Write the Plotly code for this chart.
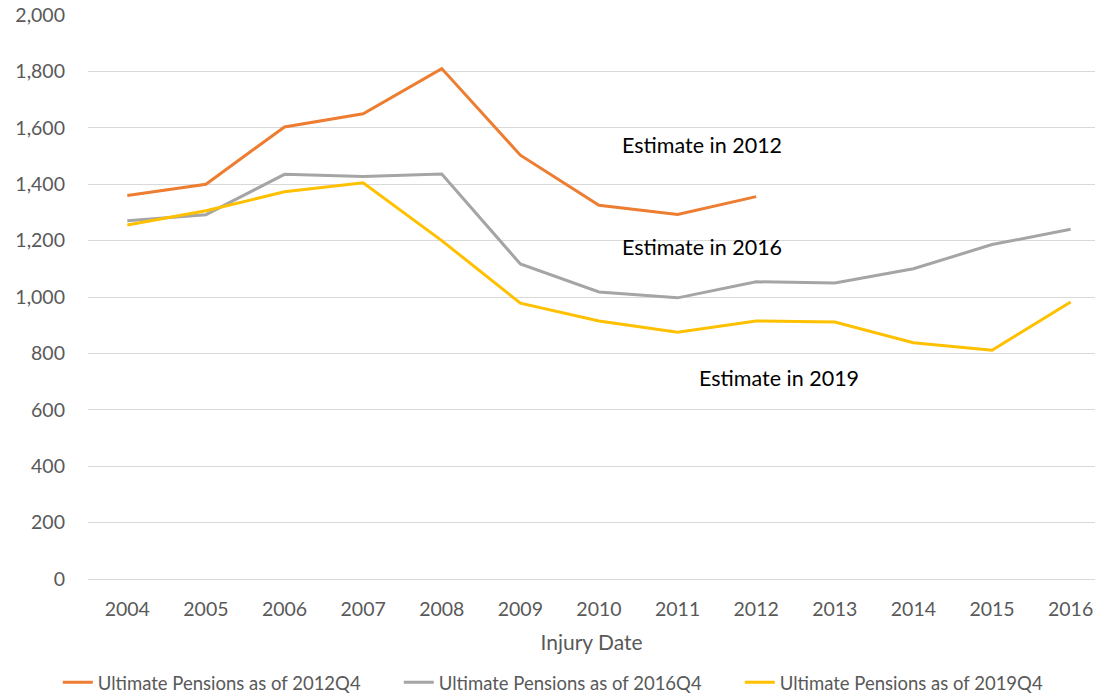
import plotly.graph_objects as go

# Injury years on the category axis
years = ["2004", "2005", "2006", "2007", "2008", "2009", "2010",
         "2011", "2012", "2013", "2014", "2015", "2016"]

# Ultimate pension counts by evaluation date
pensions_2012q4 = [1360, 1400, 1603, 1650, 1810, 1503, 1325, 1293, 1356]
pensions_2016q4 = [1270, 1292, 1435, 1427, 1436, 1117, 1018, 997, 1054,
                   1050, 1100, 1186, 1240]
pensions_2019q4 = [1255, 1306, 1373, 1405, 1200, 978, 915, 875, 915,
                   911, 838, 811, 982]

y_ticks = [0, 200, 400, 600, 800, 1000, 1200, 1400, 1600, 1800, 2000]

series = [
    ("Ultimate Pensions as of 2012Q4", pensions_2012q4, "#ED7D31"),
    ("Ultimate Pensions as of 2016Q4", pensions_2016q4, "#A5A5A5"),
    ("Ultimate Pensions as of 2019Q4", pensions_2019q4, "#FFC000"),
]

font_family = "Lato, Open Sans, sans-serif"

fig = go.Figure()
for name, values, color in series:
    fig.add_trace(go.Scatter(
        x=years[:len(values)], y=values, name=name, mode="lines",
        line=dict(color=color, width=3),
    ))

# Labels placed by category index (fractional positions between years)
labels = [
    ("Estimate in 2012", 6.27, 1539),
    ("Estimate in 2016", 6.27, 1177),
    ("Estimate in 2019", 7.25, 713),
]
for text, xpos, yval in labels:
    fig.add_annotation(
        x=xpos, y=yval, text=text, showarrow=False, xanchor="left",
        font=dict(family=font_family, size=21.5, color="#000000"),
    )

fig.update_layout(
    width=1095, height=693,
    margin=dict(l=88, r=0, t=15, b=114, autoexpand=False),
    paper_bgcolor="white", plot_bgcolor="white",
    font=dict(family=font_family, color="#595959"),
    showlegend=True,
    legend=dict(
        orientation="h", x=-0.03, xanchor="left", y=-0.184, yanchor="middle",
        font=dict(size=18.5, color="#595959"),
        entrywidth=296, entrywidthmode="pixels",
        itemwidth=30, bgcolor="rgba(0,0,0,0)",
    ),
    xaxis=dict(
        type="category", range=[-0.5, 12.31],
        showgrid=False, showline=False, ticks="", ticklabelstandoff=16,
        tickfont=dict(size=19.5, color="#595959"),
        title=dict(text="Injury Date", font=dict(size=21, color="#595959"), standoff=16),
    ),
    yaxis=dict(
        range=[0, 2000], tickvals=y_ticks, tickformat=",d",
        showgrid=True, gridcolor="#D9D9D9", gridwidth=1,
        zeroline=True, zerolinecolor="#D9D9D9", zerolinewidth=1,
        showline=False, ticks="", ticklabelstandoff=22,
        tickfont=dict(size=19.5, color="#595959"),
    ),
)

fig.write_html("out.html")
